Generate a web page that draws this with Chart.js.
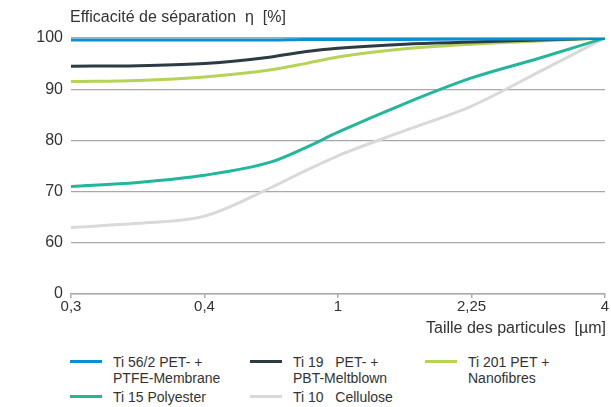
<!DOCTYPE html>
<html>
<head>
<meta charset="utf-8">
<script src="https://cdn.jsdelivr.net/npm/chart.js@4"></script>
<style>
  body { margin: 0; background: #fff; font-family: "Liberation Sans", Arial, sans-serif; color: #333; }
  #wrap { position: relative; width: 611px; height: 407px; }
  canvas { position: absolute; left: 0; top: 0; }
  .item { position: absolute; font-size: 14px; line-height: 16px; }
  .item .sw { position: absolute; left: 0; top: 6px; width: 32px; height: 3px; }
  .item .tx { position: absolute; left: 43px; top: 0; white-space: nowrap; }
</style>
</head>
<body>
<div id="wrap">
  <canvas id="chart" width="611" height="345"></canvas>
  <div id="legend"></div>
</div>
<script>
  // positions along the x axis (one unit = one labelled tick)
  const xPoints = [0, 0.5, 1, 1.5, 1.75, 2, 2.5, 3, 3.5, 4];
  const xLabels = ["0,3", "0,4", "1", "2,25", "4"];

  const ti56 = [99.6, 99.6, 99.6, 99.6, 99.7, 99.7, 99.7, 99.8, 99.8, 100];
  const ti19 = [94.5, 94.6, 95.0, 96.3, 97.3, 98.0, 98.8, 99.2, 99.6, 100];
  const ti201 = [91.5, 91.7, 92.4, 93.8, 95.0, 96.3, 97.9, 98.8, 99.4, 100];
  const ti15 = [71.0, 71.8, 73.2, 75.8, 78.5, 81.6, 87.2, 92.2, 96.0, 100];
  const ti10 = [63.0, 63.8, 65.2, 70.8, 74.0, 77.0, 81.9, 86.7, 93.3, 100];

  const names = [
    "Ti 56/2 PET- +<br>PTFE-Membrane",
    "Ti 19&nbsp;&nbsp;&nbsp;PET- +<br>PBT-Meltblown",
    "Ti 201 PET +<br>Nanofibres",
    "Ti 15 Polyester",
    "Ti 10&nbsp;&nbsp;&nbsp;Cellulose"
  ];
  const colors = ["#0b8fd0", "#2d3b43", "#b6d257", "#22b79a", "#d8dada"];
  const series = [ti56, ti19, ti201, ti15, ti10];

  const datasets = series.map((vals, i) => ({
    label: names[i],
    data: vals.map((v, j) => ({ x: xPoints[j], y: v })),
    borderColor: colors[i],
    borderWidth: 3,
    pointRadius: 0,
    fill: false,
    cubicInterpolationMode: "monotone"
  }));

  const FONT = '16px "Liberation Sans", Arial, sans-serif';

  const textPlugin = {
    id: "texts",
    afterDraw(chart) {
      const ctx = chart.ctx;
      const a = chart.chartArea;
      ctx.save();
      ctx.fillStyle = "#333";
      ctx.font = FONT;
      ctx.textBaseline = "middle";
      ctx.textAlign = "left";
      ctx.fillText("Efficacité de séparation  η  [%]", a.left - 1, 18);
      ctx.textAlign = "right";
      ctx.fillText("Taille des particules  [µm]", a.right + 1, 329);
      ctx.restore();
    }
  };

  new Chart(document.getElementById("chart"), {
    type: "line",
    data: { datasets: datasets },
    plugins: [textPlugin],
    options: {
      responsive: false,
      animation: false,
      layout: { padding: { left: 0, top: 38, right: 6, bottom: 0 } },
      plugins: { legend: { display: false }, tooltip: { enabled: false } },
      scales: {
        x: {
          type: "linear",
          min: 0,
          max: 4,
          afterBuildTicks: (s) => { s.ticks = xLabels.map((_, i) => ({ value: i })); },
          afterFit: (s) => { s.height = 51; },
          ticks: {
            callback: (v) => xLabels[v],
            color: "#333",
            font: { family: "Liberation Sans", size: 15 },
            padding: 0,
            maxRotation: 0
          },
          grid: { drawOnChartArea: false, drawTicks: true, tickLength: 4, color: "#aaa", lineWidth: 1.5 },
          border: { color: "#aaa", width: 1.5 }
        },
        y: {
          min: 50,
          max: 100,
          afterFit: (s) => { s.width = 71; },
          ticks: {
            stepSize: 10,
            callback: (v) => (v === 50 ? "0" : v),
            color: "#333",
            font: { family: "Liberation Sans", size: 16 },
            padding: 8
          },
          grid: { drawTicks: false, color: "#a8a8a8", lineWidth: 1.2 },
          border: { display: false }
        }
      }
    }
  });

  // legend laid out in three columns like the original
  const legendPos = [[70, 354], [250, 354], [425, 354], [70, 389], [250, 389]];
  const legend = document.getElementById("legend");
  names.forEach((n, i) => {
    const d = document.createElement("div");
    d.className = "item";
    d.style.left = legendPos[i][0] + "px";
    d.style.top = legendPos[i][1] + "px";
    d.innerHTML = '<div class="sw" style="background:' + colors[i] + '"></div><div class="tx">' + n + "</div>";
    legend.appendChild(d);
  });
</script>
</body>
</html>
